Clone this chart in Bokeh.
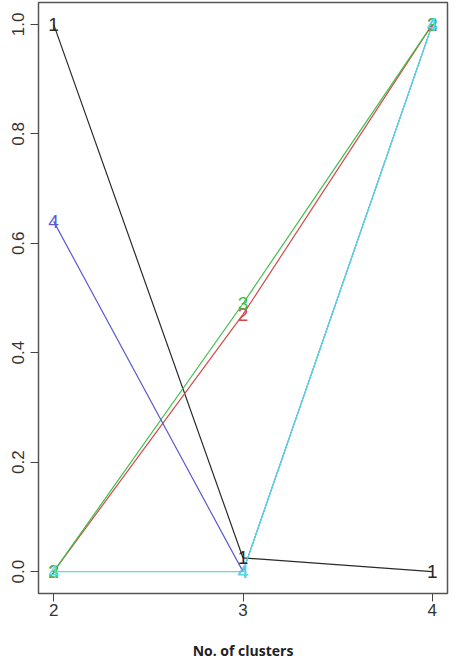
from bokeh.plotting import figure
from bokeh.models import Range1d, FixedTicker
from bokeh.embed import file_html
from bokeh.resources import INLINE
from bokeh.core.properties import value

clusters = [2, 3, 4]
series_labels = ["1", "2", "3", "4", "4"]
series_colors = ["#2a2a2a", "#d24a4a", "#3fbf4a", "#5a5ad2", "#4fe0e0"]
s1 = [1.0, 0.025, 0.0]
s2 = [0.0, 0.47, 1.0]
s3 = [0.0, 0.49, 1.0]
s4 = [0.64, 0.0, 1.0]
s5 = [0.0, 0.0, 1.0]
series_values = [s1, s2, s3, s4, s5]
y_ticks = [0.0, 0.2, 0.4, 0.6, 0.8, 1.0]
x_ticks = [2, 3, 4]

p = figure(width=451, height=662, output_backend="svg", toolbar_location=None,
           x_range=Range1d(1.92, 4.08), y_range=Range1d(-0.04, 1.04),
           min_border_left=38, min_border_right=4, min_border_top=2, min_border_bottom=40)

p.xgrid.visible = False
p.ygrid.visible = False
p.outline_line_color = "#555555"
p.outline_line_width = 1.5
p.background_fill_color = "white"

for ax in (p.xaxis, p.yaxis):
    ax.axis_line_color = None
    ax.major_tick_in = 0
    ax.major_tick_out = 8
    ax.minor_tick_line_color = None
    ax.major_tick_line_color = "#444444"
    ax.major_label_text_font = "Liberation Sans"
    ax.major_label_text_font_size = "17px"
    ax.major_label_text_color = "#333333"

p.xaxis.ticker = FixedTicker(ticks=x_ticks)
p.yaxis.ticker = FixedTicker(ticks=y_ticks)
p.yaxis.major_label_orientation = "vertical"
p.yaxis.major_label_overrides = {t: f"{t:.1f}" for t in y_ticks}
p.xaxis.major_label_standoff = 2
p.yaxis.major_label_standoff = 6

p.xaxis.axis_label = "No. of clusters"
p.xaxis.axis_label_text_font = "Open Sans"
p.xaxis.axis_label_text_font_style = "bold"
p.xaxis.axis_label_text_font_size = "14px"
p.xaxis.axis_label_text_color = "#222222"
p.xaxis.axis_label_standoff = 22

for vals, col, lab in zip(series_values, series_colors, series_labels):
    p.line(clusters, vals, line_color=col, line_width=1.2)

for vals, col, lab in zip(series_values, series_colors, series_labels):
    p.text(clusters, vals, text=[lab] * len(clusters), text_color=col,
           text_font=value("Liberation Sans"), text_font_size="19px",
           text_align="center", text_baseline="middle")

open("out.html", "w").write(file_html(p, INLINE))
